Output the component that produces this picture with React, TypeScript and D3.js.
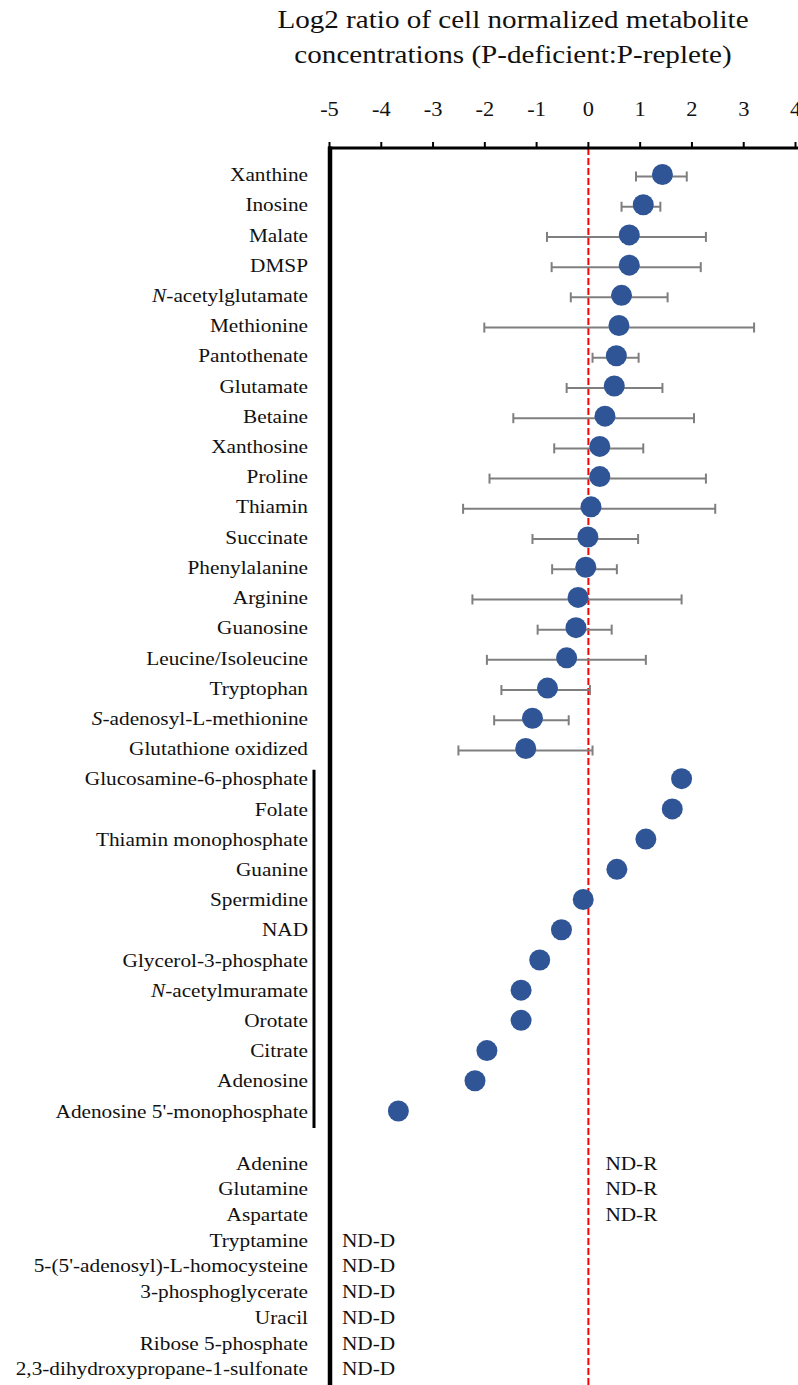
import React, { useRef, useEffect } from 'react';
import * as d3 from 'd3';

const WIDTH = 798;
const HEIGHT = 1385;

// measured metabolites: log2 ratio and error bar bounds (first 20 have bars)
const METABOLITES = [
  'Xanthine', 'Inosine', 'Malate', 'DMSP', 'N-acetylglutamate', 'Methionine',
  'Pantothenate', 'Glutamate', 'Betaine', 'Xanthosine', 'Proline', 'Thiamin',
  'Succinate', 'Phenylalanine', 'Arginine', 'Guanosine', 'Leucine/Isoleucine',
  'Tryptophan', 'S-adenosyl-L-methionine', 'Glutathione oxidized',
  'Glucosamine-6-phosphate', 'Folate', 'Thiamin monophosphate', 'Guanine',
  'Spermidine', 'NAD', 'Glycerol-3-phosphate', 'N-acetylmuramate', 'Orotate',
  'Citrate', 'Adenosine', "Adenosine 5'-monophosphate",
];
const LOG2_RATIO = [
  1.43, 1.06, 0.79, 0.79, 0.64, 0.59, 0.54, 0.50, 0.32, 0.22, 0.22, 0.05,
  -0.01, -0.05, -0.20, -0.24, -0.42, -0.79, -1.08, -1.21,
  1.80, 1.62, 1.11, 0.55, -0.10, -0.52, -0.94, -1.30, -1.30, -1.96, -2.19, -3.67,
];
const ERR_LOW = [
  0.92, 0.64, -0.80, -0.71, -0.34, -2.01, 0.08, -0.42, -1.45, -0.66, -1.91, -2.42,
  -1.08, -0.70, -2.24, -0.98, -1.96, -1.68, -1.82, -2.51,
];
const ERR_HIGH = [
  1.90, 1.39, 2.27, 2.17, 1.53, 3.20, 0.97, 1.43, 2.04, 1.06, 2.27, 2.45,
  0.96, 0.55, 1.80, 0.45, 1.11, 0.03, -0.38, 0.08,
];

// not detected in one treatment
const ND_METABOLITES = [
  'Adenine', 'Glutamine', 'Aspartate', 'Tryptamine', "5-(5'-adenosyl)-L-homocysteine",
  '3-phosphoglycerate', 'Uracil', 'Ribose 5-phosphate', '2,3-dihydroxypropane-1-sulfonate',
];
const ND_TYPE = ['ND-R', 'ND-R', 'ND-R', 'ND-D', 'ND-D', 'ND-D', 'ND-D', 'ND-D', 'ND-D'];

const X_TICKS = [-5, -4, -3, -2, -1, 0, 1, 2, 3, 4];
const TITLE_LINES = [
  'Log2 ratio of cell normalized metabolite',
  'concentrations (P-deficient:P-replete)',
];

const FONT = '"Liberation Serif", "Times New Roman", serif';
const STRETCH = 1.12;
const DOT = '#2f5597';
const BAR = '#7f7f7f';

export default function App() {
  const svgRef = useRef<SVGSVGElement>(null);

  useEffect(() => {
    const svg = d3.select(svgRef.current);
    svg.selectAll('*').remove();

    const x = d3.scaleLinear().domain([-5, 4]).range([329.5, 795.5]);
    const y = d3.scalePoint<string>().domain(METABOLITES).range([174.5, 1111]);
    const yNd = d3.scalePoint<string>().domain(ND_METABOLITES).range([1163, 1368.6]);

    const axisY = 148;
    const axisX = 330;

    // helper: stretched serif text, Times in the source renders wide
    const addText = (g, tx, ty, size, anchor) =>
      g.append('text')
        .attr('transform', `translate(${tx},${ty}) scale(${STRETCH},1)`)
        .attr('text-anchor', anchor)
        .style('font-family', FONT)
        .style('font-size', `${size}px`)
        .attr('fill', '#111');

    // title
    TITLE_LINES.forEach((t, i) => {
      addText(svg, 513, 28 + i * 35, 26, 'middle').text(t);
    });

    // tick labels
    X_TICKS.forEach(t => {
      addText(svg, x(t), 116, 20, 'middle').text(String(t));
    });

    // zero line
    svg.append('line')
      .attr('x1', x(0)).attr('x2', x(0))
      .attr('y1', axisY).attr('y2', HEIGHT)
      .attr('stroke', '#ff0000')
      .attr('stroke-width', 2)
      .attr('stroke-dasharray', '7,3');

    // top axis + ticks
    svg.append('line')
      .attr('x1', axisX - 2).attr('x2', WIDTH)
      .attr('y1', axisY).attr('y2', axisY)
      .attr('stroke', '#000').attr('stroke-width', 3);
    svg.selectAll('line.tick')
      .data(X_TICKS)
      .join('line')
      .attr('class', 'tick')
      .attr('x1', d => x(d)).attr('x2', d => x(d))
      .attr('y1', axisY).attr('y2', axisY - 6)
      .attr('stroke', '#000').attr('stroke-width', 2);

    // left axis
    svg.append('line')
      .attr('x1', axisX).attr('x2', axisX)
      .attr('y1', axisY - 1.5).attr('y2', HEIGHT)
      .attr('stroke', '#000').attr('stroke-width', 4.5);

    // bracket for the no-error-bar group
    const grp = METABOLITES.slice(ERR_LOW.length);
    svg.append('line')
      .attr('x1', 314).attr('x2', 314)
      .attr('y1', y(grp[0]) - 9).attr('y2', y(grp[grp.length - 1]) + 17)
      .attr('stroke', '#000').attr('stroke-width', 3);

    // labels (italic N-/S- prefixes)
    const label = (name, cy) => {
      const t = addText(svg, 308, cy, 19, 'end').attr('dy', '0.35em');
      const m = name.match(/^([NS])(-.*)$/);
      if (m) {
        t.append('tspan').style('font-style', 'italic').text(m[1]);
        t.append('tspan').text(m[2]);
      } else {
        t.text(name);
      }
    };
    METABOLITES.forEach(n => label(n, y(n)));
    ND_METABOLITES.forEach(n => label(n, yNd(n)));

    // error bars
    const bars = svg.append('g')
      .selectAll('g')
      .data(ERR_LOW.map((lo, i) => ({ name: METABOLITES[i], lo, hi: ERR_HIGH[i] })))
      .join('g')
      .attr('stroke', BAR)
      .attr('stroke-width', 2);
    bars.append('line')
      .attr('x1', d => x(d.lo)).attr('x2', d => x(d.hi))
      .attr('y1', d => y(d.name) + 2).attr('y2', d => y(d.name) + 2);
    ['lo', 'hi'].forEach(k => {
      bars.append('line')
        .attr('x1', d => x(d[k])).attr('x2', d => x(d[k]))
        .attr('y1', d => y(d.name) - 3).attr('y2', d => y(d.name) + 7);
    });

    // points
    svg.append('g')
      .selectAll('circle')
      .data(METABOLITES.map((name, i) => ({ name, v: LOG2_RATIO[i] })))
      .join('circle')
      .attr('cx', d => x(d.v))
      .attr('cy', d => y(d.name))
      .attr('r', 10.5)
      .attr('fill', DOT);

    // ND annotations
    ND_METABOLITES.forEach((n, i) => {
      const tx = ND_TYPE[i] === 'ND-R' ? x(0) + 17 : axisX + 12;
      addText(svg, tx, yNd(n), 19, 'start').attr('dy', '0.35em').text(ND_TYPE[i]);
    });
  }, []);

  return (
    <div style={{ position: 'absolute', left: 0, top: 0, width: WIDTH, height: HEIGHT, background: '#fff' }}>
      <svg ref={svgRef} width={WIDTH} height={HEIGHT} style={{ display: 'block' }} />
    </div>
  );
}
